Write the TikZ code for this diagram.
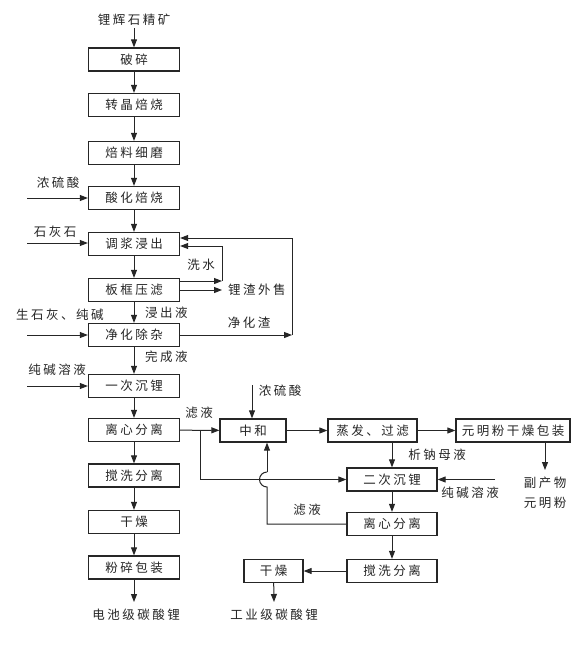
\documentclass[tikz,border=0pt]{standalone}
\usepackage{fontspec}
\newfontfamily\cjk[LetterSpace=20]{Noto Sans CJK SC}
\usetikzlibrary{arrows.meta}
\begin{document}
\begin{tikzpicture}[x=1pt,y=-1pt,
  every node/.style={font=\cjk\fontsize{12.5pt}{14pt}\selectfont, text=black!85, inner sep=0pt},
  box/.style={draw=black!85, line width=1.3pt, minimum width=91pt, minimum height=23pt},
  lbl/.style={},
  arr/.style={draw=black!85, line width=1pt, -{Triangle[length=8pt,width=6pt]}},
  ln/.style={draw=black!85, line width=1pt}]
\useasboundingbox[fill=white] (0,0) rectangle (580,653);
% main column
\node (src) at (134,20) {锂辉石精矿};
\node[box] (b1) at (134,59.5) {破碎};
\node[box] (b2) at (134,105) {转晶焙烧};
\node[box] (b3) at (134,153) {焙料细磨};
\node[box] (b4) at (134,198) {酸化焙烧};
\node[box] (b5) at (134,244) {调浆浸出};
\node[box] (b6) at (134,290) {板框压滤};
\node[box] (b7) at (134,335) {净化除杂};
\node[box] (b8) at (134,386) {一次沉锂};
\node[box] (b9) at (134,430) {离心分离};
\node[box] (b10) at (134,475.5) {搅洗分离};
\node[box] (b11) at (134,522) {干燥};
\node[box] (b12) at (134,567.5) {粉碎包装};
\node (out1) at (136,615) {电池级碳酸锂};
\coordinate (srcb) at (134,28);
\coordinate (out1t) at (134,602);
\draw[arr] (srcb) -- (b1);
\draw[arr] (b1) -- (b2);
\draw[arr] (b2) -- (b3);
\draw[arr] (b3) -- (b4);
\draw[arr] (b4) -- (b5);
\draw[arr] (b5) -- (b6);
\draw[arr] (b6) -- (b7);
\draw[arr] (b7) -- (b8);
\draw[arr] (b8) -- (b9);
\draw[arr] (b9) -- (b10);
\draw[arr] (b10) -- (b11);
\draw[arr] (b11) -- (b12);
\draw[arr] (b12) -- (out1t);
\node[anchor=west] (l1) at (145,313) {浸出液};
\node[anchor=west] (l2) at (145,357) {完成液};
% left inputs
\node (i1) at (58,183) {浓硫酸};
\node (i2) at (55,232) {石灰石};
\node (i3) at (60,315) {生石灰、纯碱};
\node (i4) at (57,370) {纯碱溶液};
\coordinate (i1s) at (27,198);
\coordinate (i2s) at (27,243);
\coordinate (i3s) at (27,335);
\coordinate (i4s) at (27,386);
\draw[arr] (i1s) -- (b4.west |- i1s);
\draw[arr] (i2s) -- (b5.west |- i2s);
\draw[arr] (i3s) -- (b7.west |- i3s);
\draw[arr] (i4s) -- (b8.west |- i4s);
% right loops
\coordinate (wA) at (222,281);
\coordinate (wB) at (222,246);
\coordinate (zA) at (222,290);
\coordinate (jA) at (292,335);
\coordinate (jB) at (292,238);
\draw[arr] (b6.east |- wA) -- (wA);
\draw[ln] (wA) -- (wB);
\draw[arr] (wB) -- (b5.east |- wB);
\draw[arr] (b6.east |- zA) -- (zA);
\draw[arr] (b7.east |- jA) -- (jA);
\draw[ln] (jA) -- (jB);
\draw[arr] (jB) -- (b5.east |- jB);
\node (xs) at (201,265) {洗水};
\node[anchor=west] (lz) at (228,290) {锂渣外售};
\node (jz) at (249,323) {净化渣};
% right part
\node[box, minimum width=66pt] (zh) at (253,430.5) {中和};
\node[box, minimum width=89pt] (zf) at (372.5,430.5) {蒸发、过滤};
\node[box, minimum width=114pt] (ym) at (513,430.5) {元明粉干燥包装};
\node[box, minimum width=90pt] (e1) at (392,479.5) {二次沉锂};
\node[box, minimum width=90pt] (e2) at (392,524) {离心分离};
\node[box, minimum width=90pt] (e3) at (392,571) {搅洗分离};
\node[box, minimum width=59pt] (e4) at (273.5,571) {干燥};
\node (out2) at (274,615) {工业级碳酸锂};
\coordinate (out2t) at (274,602);
\node (byp1) at (545,483) {副产物};
\node (byp2) at (545,503) {元明粉};
\coordinate (bypt) at (545,470);
\node (acid) at (280,391) {浓硫酸};
\coordinate (acidt) at (252,385);
\node (fl1) at (199,413) {滤液};
\node (fl2) at (307,510) {滤液};
\node (xn) at (437,455) {析钠母液};
\node (cj) at (470,493) {纯碱溶液};
\coordinate (cjs) at (495,479.5);
\draw[arr] (b9) -- (zh);
\draw[arr] (zh) -- (zf);
\draw[arr] (zf) -- (ym);
\draw[arr] (acidt) -- (acidt |- zh.north);
\draw[arr] (bypt |- ym.south) -- (bypt);
\draw[arr] (e1.north |- zf.south) -- (e1.north);
\draw[arr] (cjs) -- (e1.east);
\draw[arr] (e1) -- (e2);
\draw[arr] (e2) -- (e3);
\draw[arr] (e3) -- (e4);
\draw[arr] (e4) -- (out2t);
% branch from first centrifuge filtrate to secondary precipitation
\coordinate (br) at (200,430.5);
\coordinate (brd) at (200,479.5);
\draw[arr] (br) -- (brd) -- (e1.west);
% filtrate loop with hop
\coordinate (lp1) at (267,524);
\coordinate (lp2) at (267,487);
\coordinate (lp3) at (267,472);
\draw[ln] (e2.west) -- (lp1) -- (lp2) arc (90:270:7.5);
\draw[arr] (lp3) -- (lp3 |- zh.south);
\end{tikzpicture}
\end{document}
